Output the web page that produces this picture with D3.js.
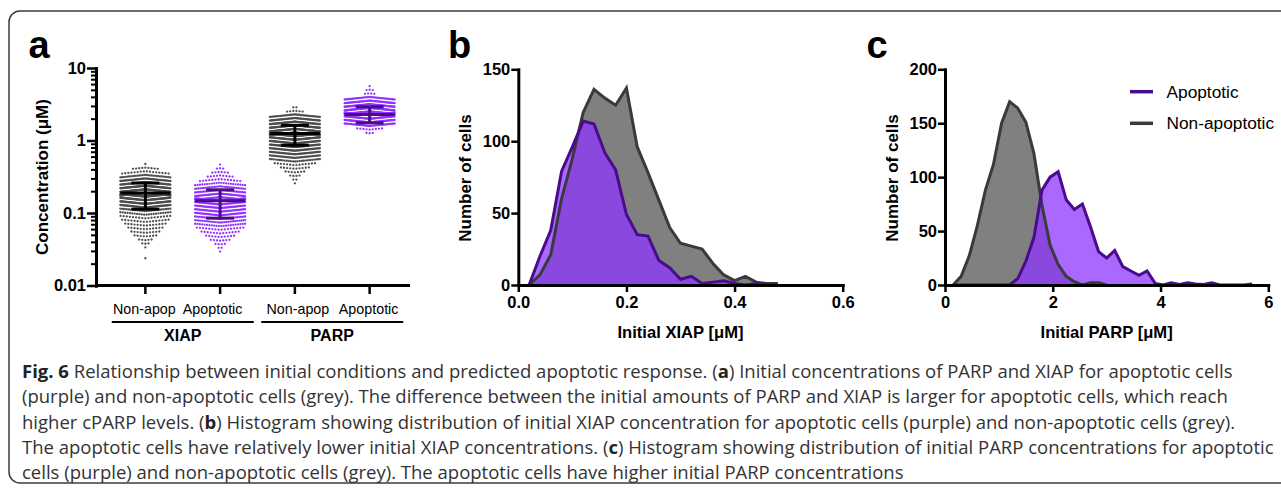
<!DOCTYPE html>
<html>
<head>
<meta charset="utf-8">
<script src="https://cdn.jsdelivr.net/npm/d3@7"></script>
<style>
  body { margin: 0; background: #fff; }
  svg { display: block; }
  text { font-family: "Liberation Sans", Arial, sans-serif; }
</style>
</head>
<body>
<div id="fig"></div>
<script>
// ---- panel a: beeswarm of initial concentrations ----
const swarmKeys = ['XIAP|Non-apop', 'XIAP|Apoptotic', 'PARP|Non-apop', 'PARP|Apoptotic'];
const swarmLabels = ['Non-apop', 'Apoptotic', 'Non-apop', 'Apoptotic'];
const proteinLabels = ['XIAP', 'PARP'];
const concTicks = [0.01, 0.1, 1, 10];
const swarmMean = [0.188, 0.148, 1.245, 2.28];
const swarmSdLow = [0.113, 0.085, 0.86, 1.75];
const swarmSdHigh = [0.259, 0.209, 1.62, 2.92];
// value of the highest row of dots in each group, then dots per row going down
const swarmTop = [0.474, 0.465, 2.88, 5.62];
const rowsXiapNonApop = [1, 9, 16, 30, 50, 65, 80, 90, 95, 95, 90, 80, 60, 30, 22, 17, 16, 14, 12, 10, 8, 5, 3, 1, 0, 0, 1];
const rowsXiapApop = [1, 3, 6, 9, 14, 22, 30, 38, 45, 50, 52, 52, 50, 46, 40, 34, 28, 22, 16, 13, 10, 7, 4, 2, 1];
const rowsParpNonApop = [2, 6, 40, 60, 75, 85, 90, 92, 90, 85, 78, 70, 60, 50, 40, 28, 14, 10, 7, 4, 2, 1];
const rowsParpApop = [1, 3, 4, 40, 60, 75, 85, 90, 90, 80, 65, 45, 9, 3];
const swarmRowStep = 0.05; // log10 width of one row bin

// ---- panel b: XIAP histogram ----
const xiapBins = [0.02, 0.04, 0.06, 0.08, 0.10, 0.12, 0.14, 0.16, 0.18, 0.20, 0.22, 0.24,
                  0.26, 0.28, 0.30, 0.32, 0.34, 0.36, 0.38, 0.40, 0.42, 0.44, 0.46, 0.48];
const xiapNonApop = [0, 7, 21, 60, 88, 120, 136, 130, 125, 137, 96, 78, 59, 40, 29, 27, 25, 15, 7, 3, 6, 2, 1, 1];
const xiapApop = [0, 20, 38, 79, 96, 114, 112, 92, 80, 49, 35, 34, 17, 12, 4, 6, 1, 2, 3, 1, 0, 1, 0, 0];
const xiapTicksX = [0, 0.2, 0.4, 0.6];
const xiapTicksY = [0, 50, 100, 150];

// ---- panel c: PARP histogram ----
const parpBins = [0.15, 0.30, 0.45, 0.60, 0.75, 0.90, 1.05, 1.20, 1.35, 1.50, 1.65, 1.80, 1.95,
                  2.10, 2.25, 2.40, 2.55, 2.70, 2.85, 3.00, 3.15, 3.30, 3.45, 3.60, 3.75, 3.90,
                  4.05, 4.20, 4.35, 4.50, 4.65, 4.80, 4.95, 5.10, 5.25, 5.40, 5.55, 5.70];
const parpNonApop = [0, 8, 27, 55, 88, 112, 150, 170, 164, 151, 122, 74, 37, 19, 8, 3, 0, 2, 2, 0];
const parpApop = [0, 0, 0, 0, 0, 0, 0, 0, 6, 22, 44, 88, 100, 105, 79, 70, 75, 54, 31, 25, 32, 17,
                  13, 9, 13, 1.5, 0, 2, 0.5, 2, 1, 0.5, 2, 0, 0, 0, 0, 1];
const parpTicksX = [0, 2, 4, 6];
const parpTicksY = [0, 50, 100, 150, 200];
const legendLabels = ['Apoptotic', 'Non-apoptotic'];

const captionLines = [
    '**Fig. 6** Relationship between initial conditions and predicted apoptotic response. (**a**) Initial concentrations of PARP and XIAP for apoptotic cells',
    '(purple) and non-apoptotic cells (grey). The difference between the initial amounts of PARP and XIAP is larger for apoptotic cells, which reach',
    'higher cPARP levels. (**b**) Histogram showing distribution of initial XIAP concentration for apoptotic cells (purple) and non-apoptotic cells (grey).',
    'The apoptotic cells have relatively lower initial XIAP concentrations. (**c**) Histogram showing distribution of initial PARP concentrations for apoptotic',
    'cells (purple) and non-apoptotic cells (grey). The apoptotic cells have higher initial PARP concentrations'
];

// colours
const GREY_DOT = '#4d4d4d';
const PURPLE_DOT = '#9232ff';
const GREY_FILL = '#808080';
const PURPLE_FILL = 'rgba(141,53,255,0.75)';
const GREY_LINE = '#3a3a3a';
const PURPLE_LINE = '#4a0b8c';

const W = 1281, H = 492;
const svg = d3.select('#fig').append('svg').attr('width', W).attr('height', H);
svg.append('rect').attr('width', W).attr('height', H).attr('fill', '#fff');

// frame
svg.append('rect')
    .attr('x', 9).attr('y', 11).attr('width', 1300).attr('height', 472)
    .attr('rx', 11).attr('fill', 'none').attr('stroke', '#3c3c3c').attr('stroke-width', 1.5);

function styleAxis(g, size) {
    g.select('.domain').attr('stroke', '#000').attr('stroke-width', 3).attr('stroke-linecap', 'square');
    g.selectAll('.tick line').attr('stroke', '#000').attr('stroke-width', 2.5);
    g.selectAll('.tick text')
        .attr('fill', '#000')
        .style('font-family', '"Liberation Sans", Arial, sans-serif')
        .style('font-weight', 'bold')
        .style('font-size', size + 'px');
}

function panelLetter(x, t) {
    svg.append('text').attr('x', x).attr('y', 58)
        .style('font-size', '38px').style('font-weight', 'bold').text(t);
}

function yTitle(x, y, t) {
    svg.append('text').attr('transform', `translate(${x},${y}) rotate(-90)`)
        .attr('text-anchor', 'middle')
        .style('font-size', '17px').style('font-weight', 'bold').text(t);
}

// ================= panel a =================
panelLetter(28.5, 'a');
const yA = d3.scaleLog().domain([0.01, 10]).range([285.5, 68]);
const xA = d3.scalePoint().domain(swarmKeys).range([108, 407]).padding(0.5);
const axisXA = 96;

// minor log ticks
const minorTicks = [];
[0.01, 0.1, 1].forEach(dec => { for (let m = 2; m <= 9; m++) minorTicks.push(dec * m); });

const gMinor = svg.append('g').attr('transform', `translate(${axisXA},0)`)
    .call(d3.axisLeft(yA).tickValues(minorTicks).tickFormat('').tickSize(5).tickSizeOuter(0));
styleAxis(gMinor, 16);
gMinor.selectAll('.tick line').attr('stroke-width', 2);

const gYA = svg.append('g').attr('transform', `translate(${axisXA},0)`)
    .call(d3.axisLeft(yA).tickValues(concTicks).tickFormat(d => String(d)).tickSize(9).tickPadding(1).tickSizeOuter(0));
styleAxis(gYA, 16.5);

// x axis of panel a
svg.append('line').attr('x1', axisXA).attr('x2', 410).attr('y1', yA(0.01)).attr('y2', yA(0.01))
    .attr('stroke', '#000').attr('stroke-width', 3);
svg.append('g').selectAll('line').data(swarmKeys).join('line')
    .attr('x1', d => xA(d)).attr('x2', d => xA(d))
    .attr('y1', yA(0.01)).attr('y2', yA(0.01) + 8.5)
    .attr('stroke', '#000').attr('stroke-width', 2.5);

const catShift = [-1, -7.5, 3, -1];
svg.append('g').selectAll('text').data(swarmKeys).join('text')
    .attr('x', (d, i) => xA(d) + catShift[i]).attr('y', 314)
    .attr('text-anchor', 'middle').style('font-size', '14.3px')
    .text((d, i) => swarmLabels[i]);

// protein group brackets
proteinLabels.forEach((p, gi) => {
    const a = xA(swarmKeys[gi * 2]), b = xA(swarmKeys[gi * 2 + 1]);
    const mid = (a + b) / 2;
    svg.append('line').attr('x1', mid - 71).attr('x2', mid + 71).attr('y1', 322).attr('y2', 322)
        .attr('stroke', '#000').attr('stroke-width', 2);
    svg.append('text').attr('x', mid).attr('y', 341).attr('text-anchor', 'middle')
        .style('font-size', '16px').style('font-weight', 'bold').text(p);
});

yTitle(48, 177, 'Concentration (\u03bcM)');

// swarm dots
const swarmRows = [rowsXiapNonApop, rowsXiapApop, rowsParpNonApop, rowsParpApop];
const halfW = 25, dotGap = 3.1, bend = 0.1;
const dots = [];
swarmRows.forEach((rows, gi) => {
    const cx = xA(swarmKeys[gi]);
    const yMean = yA(swarmMean[gi]);
    const col = gi % 2 === 0 ? GREY_DOT : PURPLE_DOT;
    rows.forEach((n, i) => {
        if (!n) return;
        const v = swarmTop[gi] * Math.pow(10, -i * swarmRowStep);
        const y = yA(v);
        const sp = n > 1 ? Math.min(dotGap, 2 * halfW / (n - 1)) : 0;
        const dir = y < yMean ? 1 : -1;
        for (let j = 0; j < n; j++) {
            const dx = (j - (n - 1) / 2) * sp;
            dots.push({ x: cx + dx, y: y + dir * Math.abs(dx) * bend, c: col });
        }
    });
});
svg.append('g').selectAll('circle').data(dots).join('circle')
    .attr('cx', d => d.x).attr('cy', d => d.y).attr('r', 1.15).attr('fill', d => d.c);

// mean and SD
const gBars = svg.append('g').attr('stroke-width', 3);
swarmKeys.forEach((k, i) => {
    const cx = xA(k);
    const col = i % 2 === 0 ? '#000' : '#4a0b8c';
    gBars.append('line').attr('x1', cx - halfW).attr('x2', cx + halfW)
        .attr('y1', yA(swarmMean[i])).attr('y2', yA(swarmMean[i])).attr('stroke', col);
    gBars.append('line').attr('x1', cx).attr('x2', cx)
        .attr('y1', yA(swarmSdHigh[i])).attr('y2', yA(swarmSdLow[i])).attr('stroke', col);
    [swarmSdHigh[i], swarmSdLow[i]].forEach(v => {
        gBars.append('line').attr('x1', cx - 14).attr('x2', cx + 14)
            .attr('y1', yA(v)).attr('y2', yA(v)).attr('stroke', col);
    });
});

// ================= histogram helper =================
function histogram(opt) {
    const x = d3.scaleLinear().domain(opt.xDomain).range(opt.xRange);
    const y = d3.scaleLinear().domain(opt.yDomain).range([285, 69.3]);

    const area = bins => d3.area().x((d, i) => x(bins[i])).y0(y(0)).y1(d => y(d));
    const line = bins => d3.line().x((d, i) => x(bins[i])).y(d => y(d));

    const g = svg.append('g');
    g.append('path').datum(opt.grey).attr('d', area(opt.bins)).attr('fill', GREY_FILL);
    g.append('path').datum(opt.purple).attr('d', area(opt.bins)).attr('fill', PURPLE_FILL);
    g.append('path').datum(opt.grey).attr('d', line(opt.bins)).attr('fill', 'none')
        .attr('stroke', GREY_LINE).attr('stroke-width', 3).attr('stroke-linejoin', 'miter');
    g.append('path').datum(opt.purple).attr('d', line(opt.bins)).attr('fill', 'none')
        .attr('stroke', PURPLE_LINE).attr('stroke-width', 3).attr('stroke-linejoin', 'miter');

    const gx = svg.append('g').attr('transform', `translate(0,${y(0)})`)
        .call(d3.axisBottom(x).tickValues(opt.xTicks).tickFormat(opt.xFormat).tickSize(7).tickPadding(4).tickSizeOuter(0));
    styleAxis(gx, 16.5);
    const gy = svg.append('g').attr('transform', `translate(${opt.xRange[0]},0)`)
        .call(d3.axisLeft(y).tickValues(opt.yTicks).tickSize(7).tickPadding(1).tickSizeOuter(0));
    styleAxis(gy, 16.5);

    svg.append('text').attr('x', (opt.xRange[0] + opt.xRange[1]) / 2).attr('y', 338)
        .attr('text-anchor', 'middle').style('font-size', '16.6px').style('font-weight', 'bold')
        .text(opt.xTitle);
    yTitle(opt.xRange[0] - 47, 178, 'Number of cells');
}

// ================= panel b =================
panelLetter(448, 'b');
histogram({
    bins: xiapBins, grey: xiapNonApop, purple: xiapApop,
    xDomain: [0, 0.6], xRange: [518.3, 842.7], yDomain: [0, 150],
    xTicks: xiapTicksX, yTicks: xiapTicksY, xFormat: d3.format('.1f'),
    xTitle: 'Initial XIAP [\u03bcM]'
});

// ================= panel c =================
panelLetter(866.5, 'c');
histogram({
    bins: parpBins, grey: parpNonApop, purple: parpApop,
    xDomain: [0, 6], xRange: [945, 1268.3], yDomain: [0, 200],
    xTicks: parpTicksX, yTicks: parpTicksY, xFormat: d3.format('d'),
    xTitle: 'Initial PARP [\u03bcM]'
});

// legend
const legendCols = [PURPLE_LINE, GREY_LINE];
legendLabels.forEach((t, i) => {
    const ly = 91.7 + i * 31.6;
    svg.append('line').attr('x1', 1130).attr('x2', 1153).attr('y1', ly).attr('y2', ly)
        .attr('stroke', legendCols[i]).attr('stroke-width', 3.5);
    svg.append('text').attr('x', 1166.5).attr('y', ly + 6)
        .style('font-size', '17.3px').text(t);
});

// ================= caption =================
captionLines.forEach((ln, i) => {
    const t = svg.append('text').attr('x', 22).attr('y', 378 + i * 25.3)
        .style('font-family', '"Open Sans", sans-serif').style('font-size', '18.5px').attr('fill', '#333');
    ln.split(/(\*\*[^*]+\*\*)/).filter(s => s.length).forEach(s => {
        const bold = s.startsWith('**');
        t.append('tspan').text(bold ? s.slice(2, -2) : s)
            .style('font-weight', bold ? 'bold' : 'normal')
            .attr('fill', bold ? '#222' : '#333');
    });
});
</script>
</body>
</html>
